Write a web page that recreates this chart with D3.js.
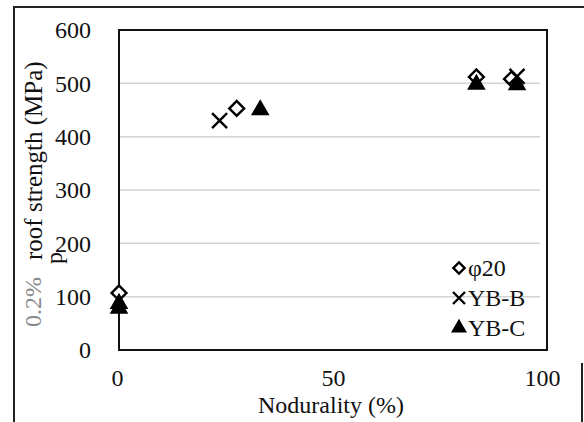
<!DOCTYPE html>
<html>
<head>
<meta charset="utf-8">
<script src="https://cdn.jsdelivr.net/npm/d3@7"></script>
<style>
  body { margin: 0; background: #fff; }
</style>
</head>
<body>
<div id="chart" style="width:584px;height:422px"></div>
<script>
// data
const phi20X = [0, 27.5, 83.5, 91.7];
const phi20Y = [107, 453, 512, 508];
const ybbX = [23.5, 93];
const ybbY = [430, 513];
const ybcX = [0, 0, 33, 83.5, 93];
const ybcY = [87, 78, 450, 498, 497];
const xTicks = [0, 50, 100];
const yTicks = [0, 100, 200, 300, 400, 500, 600];
const legendNames = ['φ20', 'YB-B', 'YB-C'];

const FONT = '"Liberation Serif", "Times New Roman", "DejaVu Serif", serif';

const svgWidth = 584, svgHeight = 422;
const margin = {top: 30, right: 37, bottom: 72, left: 119};
const innerWidth = svgWidth - margin.left - margin.right;
const innerHeight = svgHeight - margin.top - margin.bottom;

const svg = d3.select('#chart').append('svg')
    .attr('width', svgWidth)
    .attr('height', svgHeight)
    .style('font-family', FONT);

// outer frame (scan border)
svg.append('path')
    .attr('d', 'M14,422 V7 H584 M582,363 V422')
    .attr('fill', 'none')
    .attr('stroke', '#222')
    .attr('stroke-width', 2);

const g = svg.append('g')
    .attr('transform', `translate(${margin.left},${margin.top})`);

const xScale = d3.scaleLinear().domain([0, 100]).range([0, innerWidth]);
const yScale = d3.scaleLinear().domain([0, 600]).range([innerHeight, 0]);

// gridlines
g.append('g').selectAll('line')
    .data(yTicks.filter(d => d > 0 && d < 600))
    .join('line')
    .attr('x1', 1).attr('x2', innerWidth - 7)
    .attr('y1', d => yScale(d)).attr('y2', d => yScale(d))
    .attr('stroke', '#d4d4d4')
    .attr('stroke-width', 1.5);

// axes (labels only, no tick marks)
const xAxisG = g.append('g')
    .attr('transform', `translate(0,${innerHeight})`)
    .call(d3.axisBottom(xScale).tickValues(xTicks).tickSize(0).tickPadding(19));
xAxisG.select('.domain').remove();
xAxisG.attr('font-family', null).attr('font-size', null);
xAxisG.selectAll('text')
    .style('font-family', FONT)
    .style('font-size', '24px')
    .attr('fill', '#111')
    .attr('dx', (d, i) => i === 2 ? -5 : (i === 0 ? -2 : 0));

const yAxisG = g.append('g')
    .call(d3.axisLeft(yScale).tickValues(yTicks).tickSize(0).tickPadding(28));
yAxisG.select('.domain').remove();
yAxisG.attr('font-family', null).attr('font-size', null);
yAxisG.selectAll('text')
    .style('font-family', FONT)
    .style('font-size', '24px')
    .attr('fill', '#111');

// plot frame
g.append('rect')
    .attr('x', 0).attr('y', 0)
    .attr('width', innerWidth).attr('height', innerHeight)
    .attr('fill', 'none')
    .attr('stroke', '#111')
    .attr('stroke-width', 2);

// axis titles
const title = (sel, size) => sel.style('font-family', FONT).style('font-size', (size || 24) + 'px');

svg.append('text')
    .attr('x', margin.left + innerWidth / 2 - 2)
    .attr('y', 413)
    .attr('text-anchor', 'middle')
    .attr('fill', '#111')
    .call(title)
    .text('Nodurality (%)');

svg.append('text')
    .attr('transform', 'translate(41,327) rotate(-90)')
    .attr('fill', '#888')
    .call(title)
    .text('0.2%');
svg.append('text')
    .attr('transform', 'translate(62,264) rotate(-90)')
    .attr('fill', '#111')
    .call(title)
    .text('p');
svg.append('text')
    .attr('transform', 'translate(42,260) rotate(-90)')
    .attr('fill', '#111')
    .call(title, 25)
    .text('roof strength (MPa)');

// markers
const diamond = d3.symbol().type(d3.symbolSquare).size(110);
const triangle = d3.symbol().type(d3.symbolTriangle).size(150);
const cross = s => `M${-s},${-s}L${s},${s}M${-s},${s}L${s},${-s}`;

g.append('g').selectAll('path')
    .data(phi20X.map((x, i) => [x, phi20Y[i]]))
    .join('path')
    .attr('d', diamond)
    .attr('transform', d => `translate(${xScale(d[0])},${yScale(d[1])}) rotate(45)`)
    .attr('fill', '#fff')
    .attr('stroke', '#000')
    .attr('stroke-width', 2.4);

g.append('g').selectAll('path')
    .data(ybbX.map((x, i) => [x, ybbY[i]]))
    .join('path')
    .attr('d', cross(7.5))
    .attr('transform', d => `translate(${xScale(d[0])},${yScale(d[1])})`)
    .attr('fill', 'none')
    .attr('stroke', '#000')
    .attr('stroke-width', 2.4);

g.append('g').selectAll('path')
    .data(ybcX.map((x, i) => [x, ybcY[i]]))
    .join('path')
    .attr('d', triangle)
    .attr('transform', d => `translate(${xScale(d[0])},${yScale(d[1])})`)
    .attr('fill', '#000');

// legend
const legend = svg.append('g').attr('transform', 'translate(459,268)');
const legendItems = legend.selectAll('g')
    .data(legendNames)
    .join('g')
    .attr('transform', (d, i) => `translate(0,${i * 30})`);
legendItems.each(function (d, i) {
    const item = d3.select(this);
    if (i === 0) {
        item.append('path').attr('d', d3.symbol().type(d3.symbolSquare).size(64))
            .attr('transform', 'rotate(45)')
            .attr('fill', '#fff').attr('stroke', '#000').attr('stroke-width', 2.4);
    } else if (i === 1) {
        item.append('path').attr('d', cross(6))
            .attr('fill', 'none').attr('stroke', '#000').attr('stroke-width', 2.4);
    } else {
        item.append('path').attr('d', d3.symbol().type(d3.symbolTriangle).size(110))
            .attr('fill', '#000');
    }
    item.append('text')
        .attr('x', 9)
        .attr('y', 8)
        .attr('fill', '#111')
        .call(title)
        .text(d);
});
</script>
</body>
</html>
